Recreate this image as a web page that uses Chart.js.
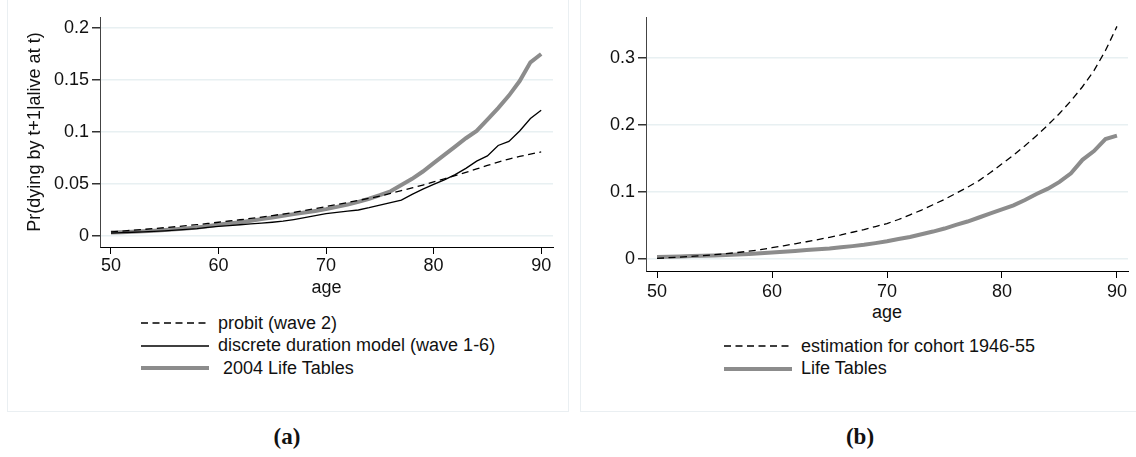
<!DOCTYPE html>
<html>
<head>
<meta charset="utf-8">
<script src="https://cdn.jsdelivr.net/npm/chart.js@4.4.1/dist/chart.umd.min.js"></script>
<style>
  body { margin: 0; width: 1136px; height: 457px; overflow: hidden; background: #fff;
         font-family: "Liberation Sans", Arial, sans-serif; color: #111; position: relative; }
  .frame { position: absolute; border: 1px solid #eaeff2; }
  .plot { position: absolute; }
  .legend { position: absolute; font-size: 18px; }
  .legend .row { height: 22.5px; display: flex; align-items: center; white-space: pre; }
  .legend svg { width: 68px; height: 10px; margin-right: 9px; flex: none; }
  .caption { position: absolute; width: 80px; text-align: center; line-height: 26px;
             font: bold 23px "Liberation Serif", "Times New Roman", serif; }
  .axtitle { position: absolute; font-size: 18px; width: 60px; text-align: center; line-height: 22px; }
</style>
</head>
<body>
  <div class="frame" style="left:7px; top:-5px; width:560px; height:415px;"></div>
  <div class="frame" style="left:580px; top:-5px; width:600px; height:415px;"></div>

  <div class="plot" style="left:0px; top:0px; width:568px; height:300px;"><canvas id="chartA"></canvas></div>
  <div class="plot" style="left:570px; top:0px; width:580px; height:300px;"><canvas id="chartB"></canvas></div>

  <div class="legend" id="legendA" style="left:141px; top:312px;"></div>
  <div class="legend" id="legendB" style="left:724px; top:335px;"></div>

  <div class="caption" style="left:247px; top:424px;">(a)</div>
  <div class="caption" style="left:820px; top:424px;">(b)</div>

<script>
// age axis shared by both panels
const ages = [50, 51, 52, 53, 54, 55, 56, 57, 58, 59,
              60, 61, 62, 63, 64, 65, 66, 67, 68, 69,
              70, 71, 72, 73, 74, 75, 76, 77, 78, 79,
              80, 81, 82, 83, 84, 85, 86, 87, 88, 89, 90];

// panel (a): one-year death probabilities
const probitWave2 = [.0040, .0047, .0055, .0063, .0071, .0080, .0089, .0099, .0109, .0120,
                     .0132, .0144, .0156, .0169, .0182, .0196, .0211, .0227, .0245, .0264,
                     .0283, .0302, .0322, .0342, .0362, .0383, .0410, .0436, .0462, .0490,
                     .0520, .0550, .0580, .0612, .0645, .0678, .0710, .0740, .0765, .0788, .0808];
const discreteDuration = [.0028, .0032, .0036, .0040, .0045, .0050, .0056, .0063, .0071, .0082,
                          .0092, .0100, .0108, .0116, .0124, .0132, .0142, .0158, .0176, .0195,
                          .0215, .0228, .0240, .0250, .0272, .0297, .0320, .0345, .0400, .0450,
                          .0497, .0540, .0590, .0650, .0720, .0770, .0870, .0910, .1010, .1130, .1210];
const lifeTables2004 = [.0033, .0037, .0041, .0046, .0051, .0057, .0064, .0072, .0081, .0094,
                        .0110, .0121, .0133, .0147, .0162, .0178, .0194, .0210, .0226, .0241,
                        .0258, .0280, .0302, .0328, .0358, .0392, .0430, .0490, .0550, .0620,
                        .0700, .0780, .0860, .0940, .1010, .1120, .1230, .1350, .1490, .1670, .1750];

// panel (b): cohort 1946-55
const cohortEstimate = [.0010, .0020, .0030, .0040, .0052, .0065, .0080, .0098, .0117, .0140,
                        .0170, .0198, .0228, .0258, .0290, .0325, .0360, .0400, .0440, .0485,
                        .0530, .0590, .0660, .0730, .0810, .0890, .0980, .1070, .1170, .1290,
                        .1420, .1550, .1690, .1840, .2000, .2170, .2360, .2570, .2810, .3110, .3470];
const cohortLifeTables = [.0030, .0035, .0040, .0045, .0050, .0055, .0061, .0068, .0076, .0086,
                          .0098, .0110, .0122, .0134, .0145, .0158, .0175, .0193, .0213, .0238,
                          .0265, .0300, .0330, .0370, .0410, .0455, .0510, .0560, .0620, .0680,
                          .0740, .0800, .0880, .0970, .1050, .1150, .1280, .1480, .1610, .1790, .1840];

const ageTicks = [50, 60, 70, 80, 90];
const yTicksA = [0, 0.05, 0.1, 0.15, 0.2];
const yTicksB = [0, 0.1, 0.2, 0.3];

const FONT = { family: '"Liberation Sans", Arial, sans-serif', size: 18 };
const GRAY = '#8c8c8c';
const DASH = [7, 4.5];

function pts(ys) {
    return ages.map((a, i) => ({ x: a, y: ys[i] }));
}

function line(label, ys, style) {
    return Object.assign({
        label: label,
        data: pts(ys),
        borderColor: '#000',
        borderWidth: 1.3,
        pointRadius: 0,
        tension: 0,
        fill: false
    }, style);
}

function fmt(v) {
    return String(Math.round(v * 100) / 100);
}

function makeChart(id, datasets, cfg) {
    return new Chart(document.getElementById(id), {
        type: 'line',
        data: { datasets: datasets },
        options: {
            responsive: true,
            maintainAspectRatio: false,
            animation: false,
            layout: { padding: cfg.padding },
            plugins: { legend: { display: false }, tooltip: { enabled: false } },
            scales: {
                x: {
                    type: 'linear',
                    min: cfg.xMin, max: cfg.xMax,
                    afterBuildTicks: s => { s.ticks = ageTicks.map(v => ({ value: v })); },
                    afterFit: s => { s.height = cfg.xHeight; },
                    ticks: { font: FONT, color: '#111', padding: cfg.xPad, maxRotation: 0 },
                    grid: { drawOnChartArea: false, tickLength: 7, tickColor: '#000' },
                    border: { color: '#000', width: 1 }
                },
                y: {
                    min: cfg.yMin, max: cfg.yMax,
                    afterBuildTicks: s => { s.ticks = cfg.yTicks.map(v => ({ value: v })); },
                    afterFit: s => { s.width = cfg.yWidth; },
                    ticks: { font: FONT, color: '#111', padding: 3, callback: fmt },
                    grid: { color: '#e8f0f2', lineWidth: 1.5, tickLength: 8, tickColor: '#333' },
                    border: { color: '#444', width: 1 },
                    title: cfg.yTitle ? {
                        display: true, text: cfg.yTitle, font: FONT, color: '#111',
                        padding: { top: 24, bottom: 0 }
                    } : { display: false }
                }
            }
        }
    });
}

const chartA = makeChart('chartA', [
    line('probit (wave 2)', probitWave2, { borderDash: DASH }),
    line('discrete duration model (wave 1-6)', discreteDuration, {}),
    line(' 2004 Life Tables', lifeTables2004, { borderColor: GRAY, borderWidth: 4 })
], {
    padding: { left: 0, top: 17, right: 15, bottom: 0 },
    xMin: 48.98, xMax: 91.1, xHeight: 53, xPad: 1,
    yMin: -0.0106, yMax: 0.2106, yTicks: yTicksA, yWidth: 100,
    yTitle: 'Pr(dying by t+1|alive at t)'
});

const chartB = makeChart('chartB', [
    line('estimation for cohort 1946-55', cohortEstimate, { borderDash: DASH }),
    line('Life Tables', cohortLifeTables, { borderColor: GRAY, borderWidth: 4 })
], {
    padding: { left: 0, top: 17, right: 22, bottom: 0 },
    xMin: 49.04, xMax: 90.96, xHeight: 29, xPad: 3,
    yMin: -0.0178, yMax: 0.361, yTicks: yTicksB, yWidth: 76
});

// "age" titles sit under each plot, centred on the chart area
function axisTitle(chart, offsetLeft, middle) {
    const a = chart.chartArea;
    const el = document.createElement('div');
    el.className = 'axtitle';
    el.textContent = 'age';
    el.style.left = (offsetLeft + (a.left + a.right) / 2 - 30) + 'px';
    el.style.top = (middle - 11) + 'px';
    document.body.appendChild(el);
}
axisTitle(chartA, 0, 287);
axisTitle(chartB, 570, 312);

// legend rows built from the datasets of each chart
function buildLegend(chart, id) {
    const box = document.getElementById(id);
    chart.data.datasets.forEach(ds => {
        const row = document.createElement('div');
        row.className = 'row';
        const dash = ds.borderDash ? ds.borderDash.join(',') : 'none';
        row.innerHTML = '<svg viewBox="0 0 68 10"><line x1="0" y1="5" x2="68" y2="5" stroke="' +
            ds.borderColor + '" stroke-width="' + ds.borderWidth + '" stroke-dasharray="' + dash + '"/></svg>';
        const span = document.createElement('span');
        span.textContent = ds.label;
        row.appendChild(span);
        box.appendChild(row);
    });
}
buildLegend(chartA, 'legendA');
buildLegend(chartB, 'legendB');
</script>
</body>
</html>
